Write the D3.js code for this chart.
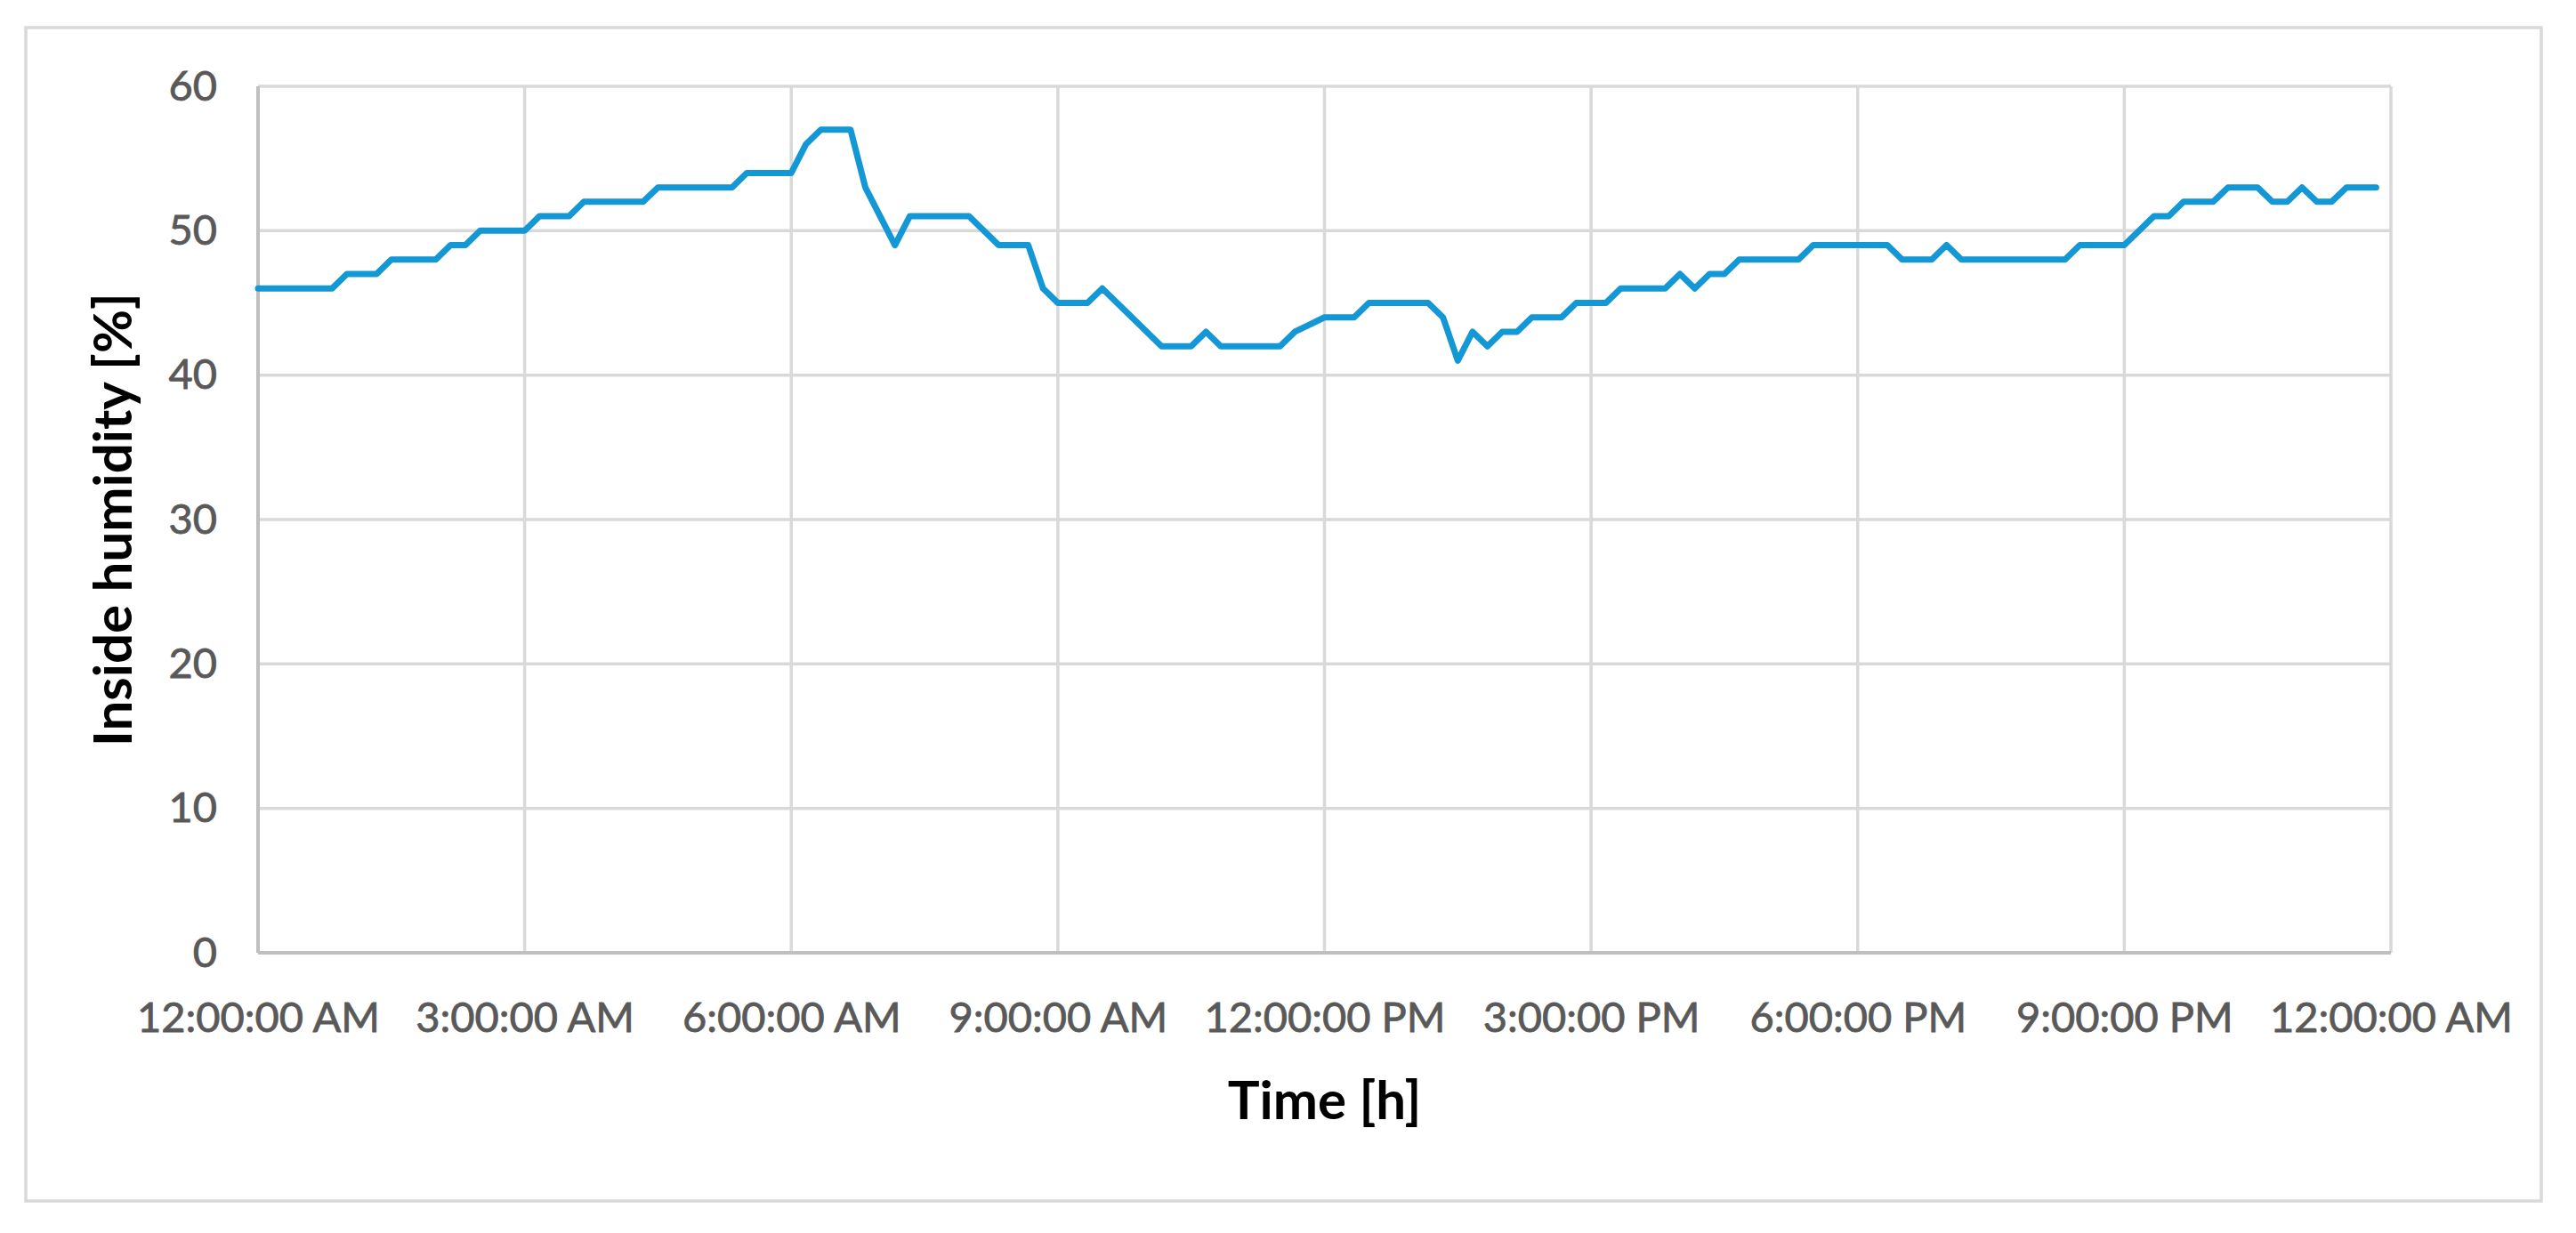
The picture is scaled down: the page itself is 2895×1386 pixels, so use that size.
<!DOCTYPE html>
<html><head><meta charset="utf-8">
<script src="https://cdn.jsdelivr.net/npm/d3@7"></script>
<style>html,body{margin:0;padding:0;background:#fff;} svg{display:block;}</style>
</head><body>
<svg id="chart" width="2895" height="1386"></svg>
<script>
// ---- data ----
const dayStart = [2020, 0, 1];          // arbitrary day, only the clock time is shown
const intervalMinutes = 10;             // one reading every 10 minutes
const humidity = [
  46,46,46,46,46,46,47,47,47,48,48,48,48,49,49,50,50,50,50,51,51,51,52,52,
  52,52,52,53,53,53,53,53,53,54,54,54,54,56,57,57,57,53,51,49,51,51,51,51,
  51,50,49,49,49,46,45,45,45,46,45,44,43,42,42,42,43,42,42,42,42,42,43,43.5,
  44,44,44,45,45,45,45,45,44,41,43,42,43,43,44,44,44,45,45,45,46,46,46,46,
  47,46,47,47,48,48,48,48,48,49,49,49,49,49,49,48,48,48,49,48,48,48,48,48,
  48,48,48,49,49,49,49,50,51,51,52,52,52,53,53,53,52,52,53,52,52,53,53,53
];
const yTicks = [0, 10, 20, 30, 40, 50, 60];
const xTickHours = [0, 3, 6, 9, 12, 15, 18, 21, 24];
const yTitle = "Inside humidity [%]";
const xTitle = "Time [h]";

// ---- layout ----
const plot = {left: 290, right: 2687, top: 97, bottom: 1071};
const FONT = "Lato, 'Open Sans', sans-serif";

const svg = d3.select("#chart");
const t0 = new Date(dayStart[0], dayStart[1], dayStart[2], 0, 0, 0);
const data = humidity.map((v, i) => ({t: d3.timeMinute.offset(t0, i * intervalMinutes), v}));

const x = d3.scaleTime()
  .domain([t0, d3.timeHour.offset(t0, 24)])
  .range([plot.left, plot.right]);
const y = d3.scaleLinear().domain([0, 60]).range([plot.bottom, plot.top]);

// outer frame
svg.append("rect")
  .attr("x", 29).attr("y", 31).attr("width", 2827).attr("height", 1319)
  .attr("fill", "#fff").attr("stroke", "#d9d9d9").attr("stroke-width", 3.5);

const xTickVals = xTickHours.map(h => d3.timeHour.offset(t0, h));
const fmt = d3.timeFormat("%-I:%M:%S %p");

// gridlines
const grid = svg.append("g");
grid.selectAll("line.h").data(yTicks.filter(d => d > 0)).join("line")
  .attr("x1", plot.left).attr("x2", plot.right)
  .attr("y1", d => y(d)).attr("y2", d => y(d))
  .attr("stroke", "#d9d9d9").attr("stroke-width", 3.5);
grid.selectAll("line.v").data(xTickVals.slice(1)).join("line")
  .attr("x1", d => x(d)).attr("x2", d => x(d))
  .attr("y1", plot.top).attr("y2", plot.bottom)
  .attr("stroke", "#d9d9d9").attr("stroke-width", 3.5);

// axis lines
svg.append("line").attr("x1", plot.left).attr("x2", plot.left)
  .attr("y1", plot.top).attr("y2", plot.bottom)
  .attr("stroke", "#bfbfbf").attr("stroke-width", 4);
svg.append("line").attr("x1", plot.left).attr("x2", plot.right)
  .attr("y1", plot.bottom).attr("y2", plot.bottom)
  .attr("stroke", "#bfbfbf").attr("stroke-width", 4);

// y axis labels
const yAxis = svg.append("g")
  .attr("transform", `translate(${plot.left},0)`)
  .call(d3.axisLeft(y).tickValues(yTicks).tickSize(0).tickPadding(46).tickFormat(d3.format("d")));
yAxis.select(".domain").remove();
yAxis.selectAll("text").attr("font-family", FONT).attr("font-size", 47).attr("fill", "#595959")
  .attr("stroke", "#595959").attr("stroke-width", 0.8);

// x axis labels
const xAxis = svg.append("g")
  .attr("transform", `translate(0,${plot.bottom})`)
  .call(d3.axisBottom(x).tickValues(xTickVals).tickSize(0).tickPadding(56).tickFormat(fmt));
xAxis.select(".domain").remove();
xAxis.selectAll("text").attr("font-family", FONT).attr("font-size", 47).attr("fill", "#595959")
  .attr("stroke", "#595959").attr("stroke-width", 0.8);

// line
svg.append("path").datum(data)
  .attr("fill", "none").attr("stroke", "#1497d5").attr("stroke-width", 7)
  .attr("stroke-linejoin", "round").attr("stroke-linecap", "round")
  .attr("d", d3.line().x(d => x(d.t)).y(d => y(d.v)));

// titles
svg.append("text")
  .attr("transform", `translate(148,${(plot.top + plot.bottom) / 2}) rotate(-90)`)
  .attr("text-anchor", "middle").attr("font-family", FONT).attr("font-weight", "bold")
  .attr("font-size", 60).attr("fill", "#000").text(yTitle);
svg.append("text")
  .attr("x", (plot.left + plot.right) / 2).attr("y", 1258)
  .attr("text-anchor", "middle").attr("font-family", FONT).attr("font-weight", "bold")
  .attr("font-size", 60).attr("fill", "#000").text(xTitle);
</script>
</body></html>
